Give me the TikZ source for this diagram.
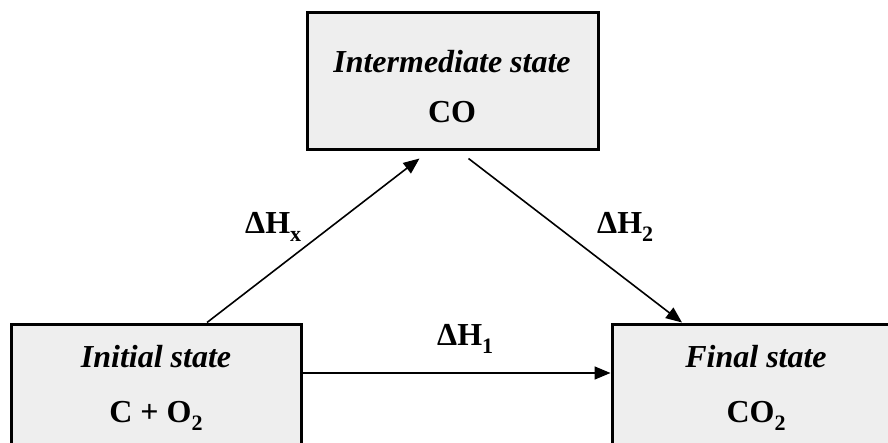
\documentclass[tikz,border=0pt]{standalone}
\usepackage{fontspec}
\setmainfont{Liberation Serif}
\usetikzlibrary{calc,arrows.meta}
\newcommand{\lowsub}[1]{\raisebox{-0.25em}{\fontsize{22}{22}\selectfont #1}}
\begin{document}
\begin{tikzpicture}[x=1pt,y=-1pt,
  statebox/.style={draw=black,line width=3pt,fill=gray!13,rectangle,inner sep=0pt},
  conn/.style={line width=1.6pt,-{Triangle[length=16pt,width=13pt]}},
  txt/.style={anchor=base,inner sep=0pt,font=\fontsize{32}{38}\selectfont\bfseries}]
\useasboundingbox (0,0) rectangle (888,443);
\clip (0,0) rectangle (888,443);
\node[statebox,minimum width=291pt,minimum height=137pt] (mid) at (452.5,81.5) {};
\node[statebox,minimum width=290pt,minimum height=146pt] (init) at (156,397) {};
\node[statebox,minimum width=308pt,minimum height=146pt] (final) at (766,397) {};
\node[txt] (midt) at (452,73) {\itshape Intermediate state};
\node[txt] (midf) at (452,123) {CO};
\node[txt] (initt) at (156,367) {\itshape Initial state};
\node[txt] (initf) at (156,422) {C + O\lowsub{2}};
\node[txt] (finalt) at (756,367) {\itshape Final state};
\node[txt] (finalf) at (756,422) {CO\lowsub{2}};
\draw[conn] ($(init.north)+(51,0)$) -- ($(mid.south)+(-33,7)$);
\draw[conn] ($(mid.south)+(16,7)$) -- ($(final.north)+(-84,0)$);
\draw[conn] ($(init.east)+(0,-24)$) -- ($(final.west)+(0,-24)$);
\node[txt,anchor=base west] (lx) at (245,234) {ΔH\lowsub{x}};
\node[txt,anchor=base west] (l2) at (597,234) {ΔH\lowsub{2}};
\node[txt,anchor=base west] (l1) at (437,345) {ΔH\lowsub{1}};
\end{tikzpicture}
\end{document}
